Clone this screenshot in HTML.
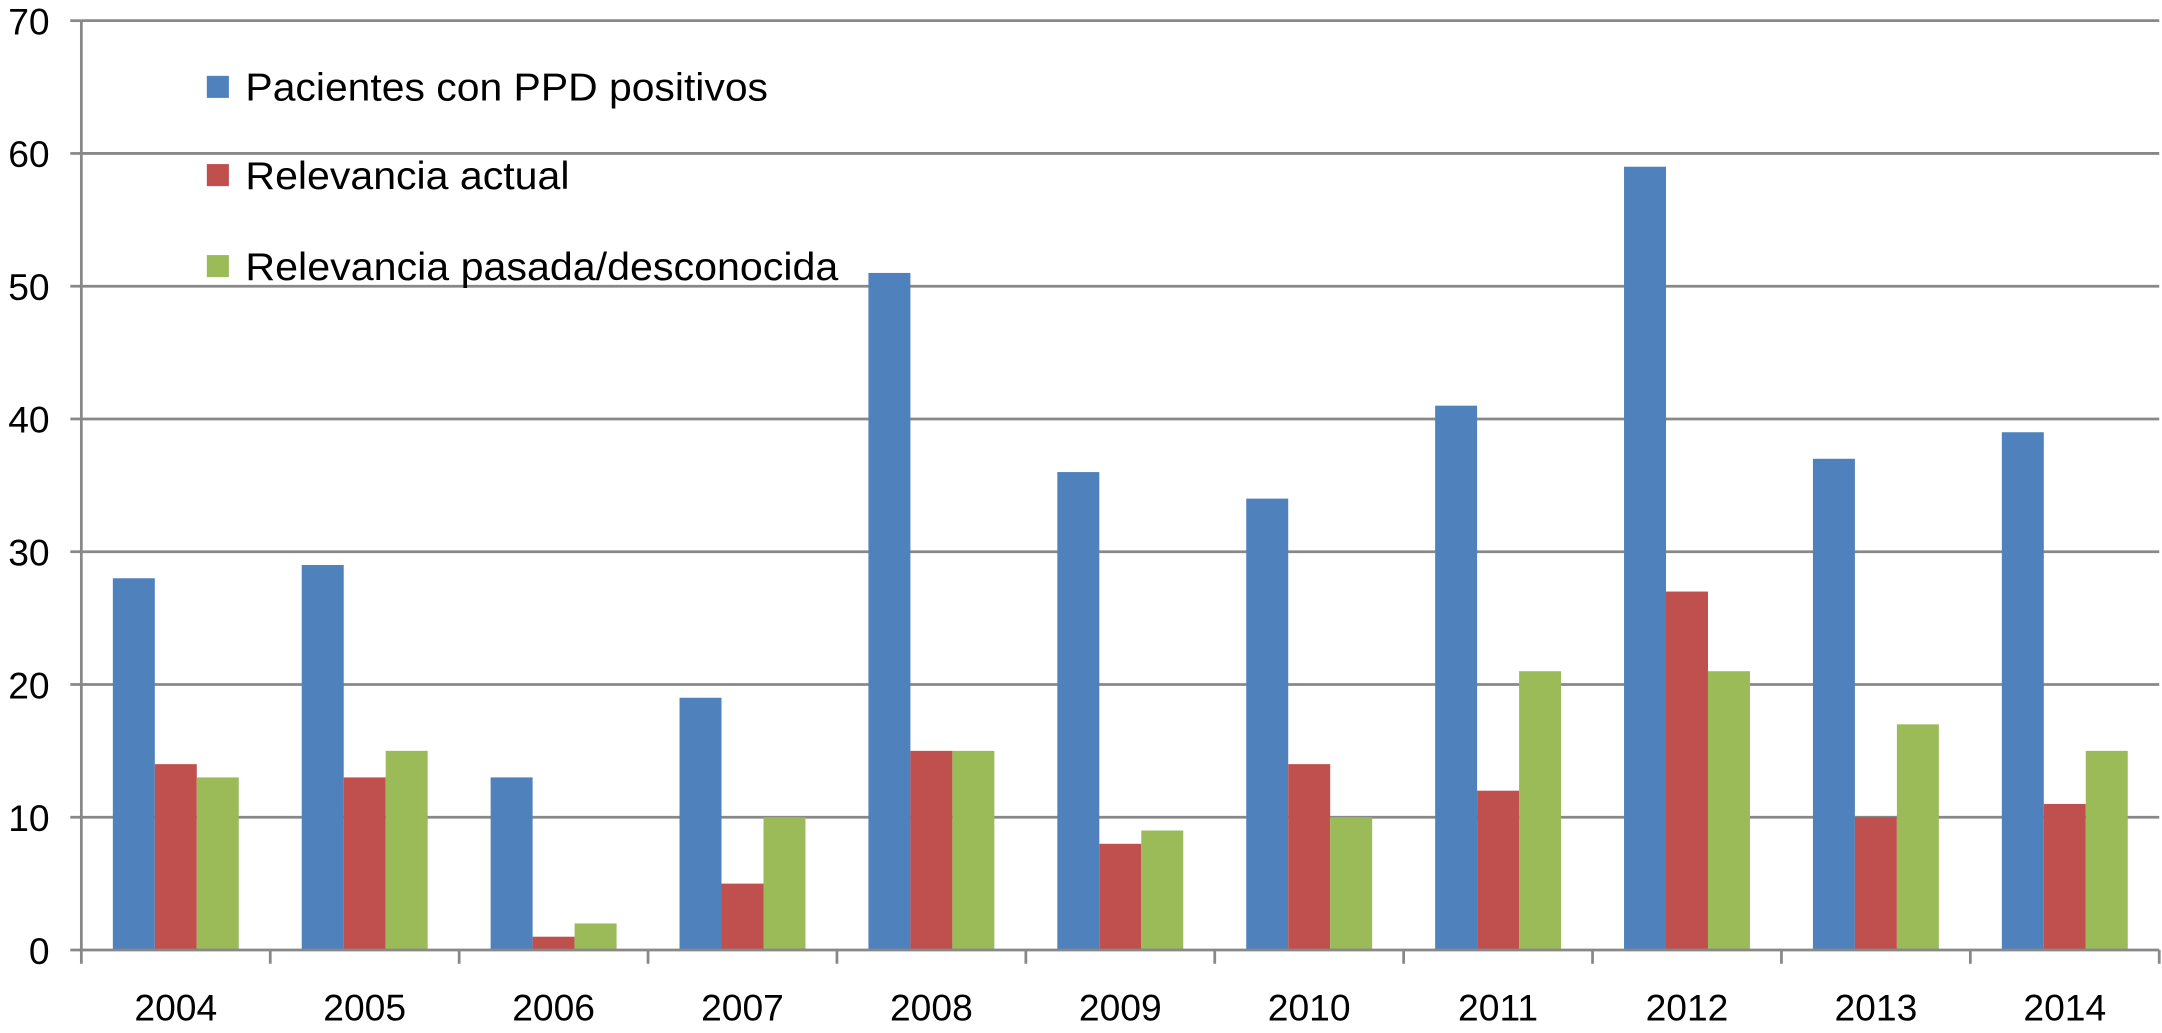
<!DOCTYPE html>
<html><head><meta charset="utf-8"><style>
html,body{margin:0;padding:0;background:#fff;}
svg{display:block;}
svg text{font-family:"Liberation Sans",Arial,sans-serif;fill:#000;}
</style></head><body>
<svg id="chart" width="2162" height="1033" viewBox="0 0 1568 749.2" preserveAspectRatio="none" xmlns="http://www.w3.org/2000/svg">
<g id="grid"></g>
<g id="bars"></g>
<g id="axes"></g>
<g id="legend">
  <rect x="150" y="55" width="16" height="16" fill="#4F81BD"/>
  <text x="178" y="73" font-size="28" textLength="379" lengthAdjust="spacingAndGlyphs">Pacientes con PPD positivos</text>
  <rect x="150" y="119" width="16" height="16" fill="#C0504D"/>
  <text x="178" y="137" font-size="28" textLength="235" lengthAdjust="spacingAndGlyphs">Relevancia actual</text>
  <rect x="150" y="185" width="16" height="16" fill="#9BBB59"/>
  <text x="178" y="203" font-size="28" textLength="430" lengthAdjust="spacingAndGlyphs">Relevancia pasada/desconocida</text>
</g>
</svg>
<script>
const categories = ['2004','2005','2006','2007','2008','2009','2010','2011','2012','2013','2014'];
const positivos = [28,29,13,19,51,36,34,41,59,37,39];
const actual = [14,13,1,5,15,8,14,12,27,10,11];
const pasada = [13,15,2,10,15,9,10,21,21,17,15];
const yTicks = [0,10,20,30,40,50,60,70];

const NS='http://www.w3.org/2000/svg';
const x0=59, x1=1566, yBase=689, yTop=15, yMax=70;
const cw=(x1-x0)/categories.length;
const bw=cw/4.5;
function y(v){return yBase-(v/yMax)*(yBase-yTop);}
function mk(tag,attrs,parent){const e=document.createElementNS(NS,tag);for(const k in attrs)e.setAttribute(k,attrs[k]);parent.appendChild(e);return e;}
const grid=document.getElementById('grid'),bars=document.getElementById('bars'),axes=document.getElementById('axes');
yTicks.forEach(t=>{
  if(t>0){const l=mk('line',{x1:x0,x2:x1,y1:y(t),y2:y(t),stroke:'#888','stroke-width':2},grid);
  
  }
  const tk=mk('line',{x1:x0-8,x2:x0,y1:y(t),y2:y(t),stroke:'#888','stroke-width':2},axes);
  
  
  const tx=mk('text',{x:x0-23,y:y(t)+10,'text-anchor':'end','font-size':27},axes);
  tx.textContent=t;
  
  
});
const series=[[positivos,'#4F81BD','positivos'],[actual,'#C0504D','actual'],[pasada,'#9BBB59','pasada']];
categories.forEach((c,i)=>{
  const cx=x0+i*cw;
  series.forEach((s,j)=>{
    const v=s[0][i];
    const r=mk('rect',{x:cx+0.75*bw+j*bw,y:y(v),width:bw,height:yBase-y(v),fill:s[1]},bars);
    
    
  });
  const tk=mk('line',{x1:cx,x2:cx,y1:yBase,y2:yBase+10,stroke:'#888','stroke-width':2},axes);
  
  
  const tx=mk('text',{x:cx+cw/2,y:yBase+51,'text-anchor':'middle','font-size':27},axes);
  tx.textContent=c;
  
  
});
const lt=mk('line',{x1:x1,x2:x1,y1:yBase,y2:yBase+10,stroke:'#888','stroke-width':2},axes);


const ya=mk('line',{x1:x0,x2:x0,y1:yTop,y2:yBase,stroke:'#888','stroke-width':2},axes);


const xa=mk('line',{x1:x0,x2:x1,y1:yBase,y2:yBase,stroke:'#888','stroke-width':2},axes);


</script>
</body></html>
